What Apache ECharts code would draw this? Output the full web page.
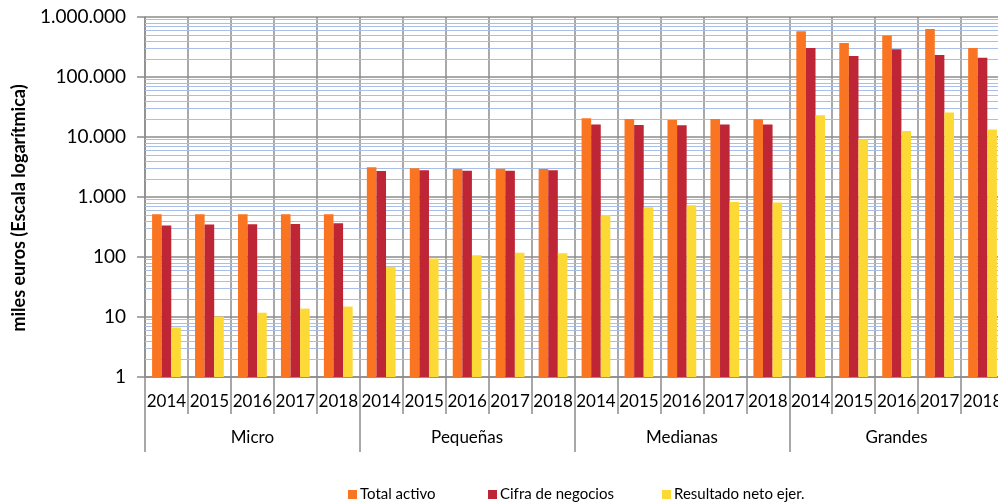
<!DOCTYPE html>
<html>
<head>
<meta charset="utf-8">
<script src="https://cdn.jsdelivr.net/npm/echarts@6/dist/echarts.min.js"></script>
<style>
html,body{margin:0;padding:0;background:#fff;overflow:hidden;width:998px;height:504px;}
#chart{width:1006px;height:504px;}
</style>
</head>
<body>
<div id="chart"></div>
<script>
var groups = ['Micro', 'Pequeñas', 'Medianas', 'Grandes'];
var years = ['2014', '2015', '2016', '2017', '2018'];
var yTickLabels = ['1', '10', '100', '1.000', '10.000', '100.000', '1.000.000'];
var seriesNames = ['Total activo', 'Cifra de negocios', 'Resultado neto ejer.'];
var totalActivo = [515, 515, 515, 515, 515, 3126, 3008, 2930, 2960, 2930, 20500, 19950, 19200, 19950, 19700, 578000, 369000, 490000, 631000, 304000];
var cifraNegocios = [334, 347, 350, 355, 365, 2712, 2786, 2750, 2750, 2786, 16100, 15850, 15660, 16100, 16100, 304000, 224000, 290000, 233000, 210000];
var resultadoNeto = [6.7, 10.2, 11.8, 13.8, 14.9, 69, 94, 107, 118, 115, 501, 673, 727, 825, 806, 23000, 9160, 12600, 25500, 13300];

var categories = [];
groups.forEach(function (g) { years.forEach(function (y) { categories.push(g + ' ' + y); }); });

var minorValues = [];
for (var d = 1; d < 1000000; d *= 10) {
  for (var m = 2; m <= 9; m++) minorValues.push(m * d);
}

var FONT = 'Lato';
var GRAY = '#8c8c8c';
var colors = ['#FA7521', '#BE2535', '#FDD935'];

var chart = echarts.init(document.getElementById('chart'), null, {renderer: 'canvas', width: 1006, height: 504});
var option = {
  animation: false,
  textStyle: {fontFamily: FONT, color: '#000'},
  grid: {left: 145, top: 17, width: 859, height: 360, containLabel: false},
  xAxis: [{
    type: 'category',
    data: categories,
    position: 'bottom',
    axisLine: {show: true, lineStyle: {color: GRAY, width: 1.5}},
    axisTick: {show: true, interval: 0, length: 37, lineStyle: {color: GRAY, width: 1.5}},
    axisLabel: {interval: 0, margin: 16, fontSize: 17, fontFamily: FONT, color: '#000',
      formatter: function (v) { return v.split(' ')[1]; }},
    splitLine: {show: true, interval: 0, lineStyle: {color: GRAY, width: 1.5}}
  }, {
    type: 'category',
    data: groups,
    position: 'bottom',
    axisLine: {show: false},
    axisTick: {show: true, interval: 0, length: 75, lineStyle: {color: GRAY, width: 1.5}},
    axisLabel: {interval: 0, margin: 52, fontSize: 17, fontFamily: FONT, color: '#000'},
    splitLine: {show: false}
  }],
  yAxis: {
    type: 'log',
    logBase: 10,
    min: 1,
    max: 1000000,
    splitNumber: 6,
    name: 'miles euros (Escala logarítmica)',
    nameLocation: 'middle',
    nameGap: 117,
    nameTextStyle: {fontFamily: FONT, fontWeight: 'bold', fontSize: 18, color: '#000', padding: [0, 22, 0, 0]},
    axisLine: {show: true, lineStyle: {color: GRAY, width: 1.5}},
    axisTick: {show: true, length: 8, lineStyle: {color: GRAY, width: 1.5}},
    axisLabel: {margin: 19, fontSize: 19, fontFamily: FONT, color: '#000',
      formatter: function (v) {
        var i = Math.round(Math.log10(v));
        return yTickLabels[i] !== undefined ? yTickLabels[i] : '';
      }},
    splitLine: {show: true, lineStyle: {color: GRAY, width: 1.5}}
  },
  legend: [0, 1, 2].map(function (i) {
    return {
      data: [seriesNames[i]],
      left: [343, 483, 657][i],
      top: 482,
      icon: 'rect',
      itemWidth: 9,
      itemHeight: 9,
      itemGap: 0,
      textStyle: {fontFamily: FONT, fontSize: 15, color: '#000', padding: [0, 0, 0, -2]}
    };
  }),
  series: [{
    name: seriesNames[0],
    type: 'bar',
    data: totalActivo,
    itemStyle: {color: colors[0]},
    barGap: '0%',
    barCategoryGap: '33%',
    markLine: {
      silent: true,
      symbol: 'none',
      z: 1,
      animation: false,
      label: {show: false},
      lineStyle: {color: '#a9bfe8', width: 1, type: 'solid'},
      emphasis: {disabled: true},
      data: minorValues.map(function (v) { return {yAxis: v}; })
    }
  }, {
    name: seriesNames[1],
    type: 'bar',
    data: cifraNegocios,
    itemStyle: {color: colors[1]},
    barGap: '0%',
    barCategoryGap: '33%'
  }, {
    name: seriesNames[2],
    type: 'bar',
    data: resultadoNeto,
    itemStyle: {color: colors[2]},
    barGap: '0%',
    barCategoryGap: '33%'
  }]
};
chart.setOption(option);
</script>
</body>
</html>
